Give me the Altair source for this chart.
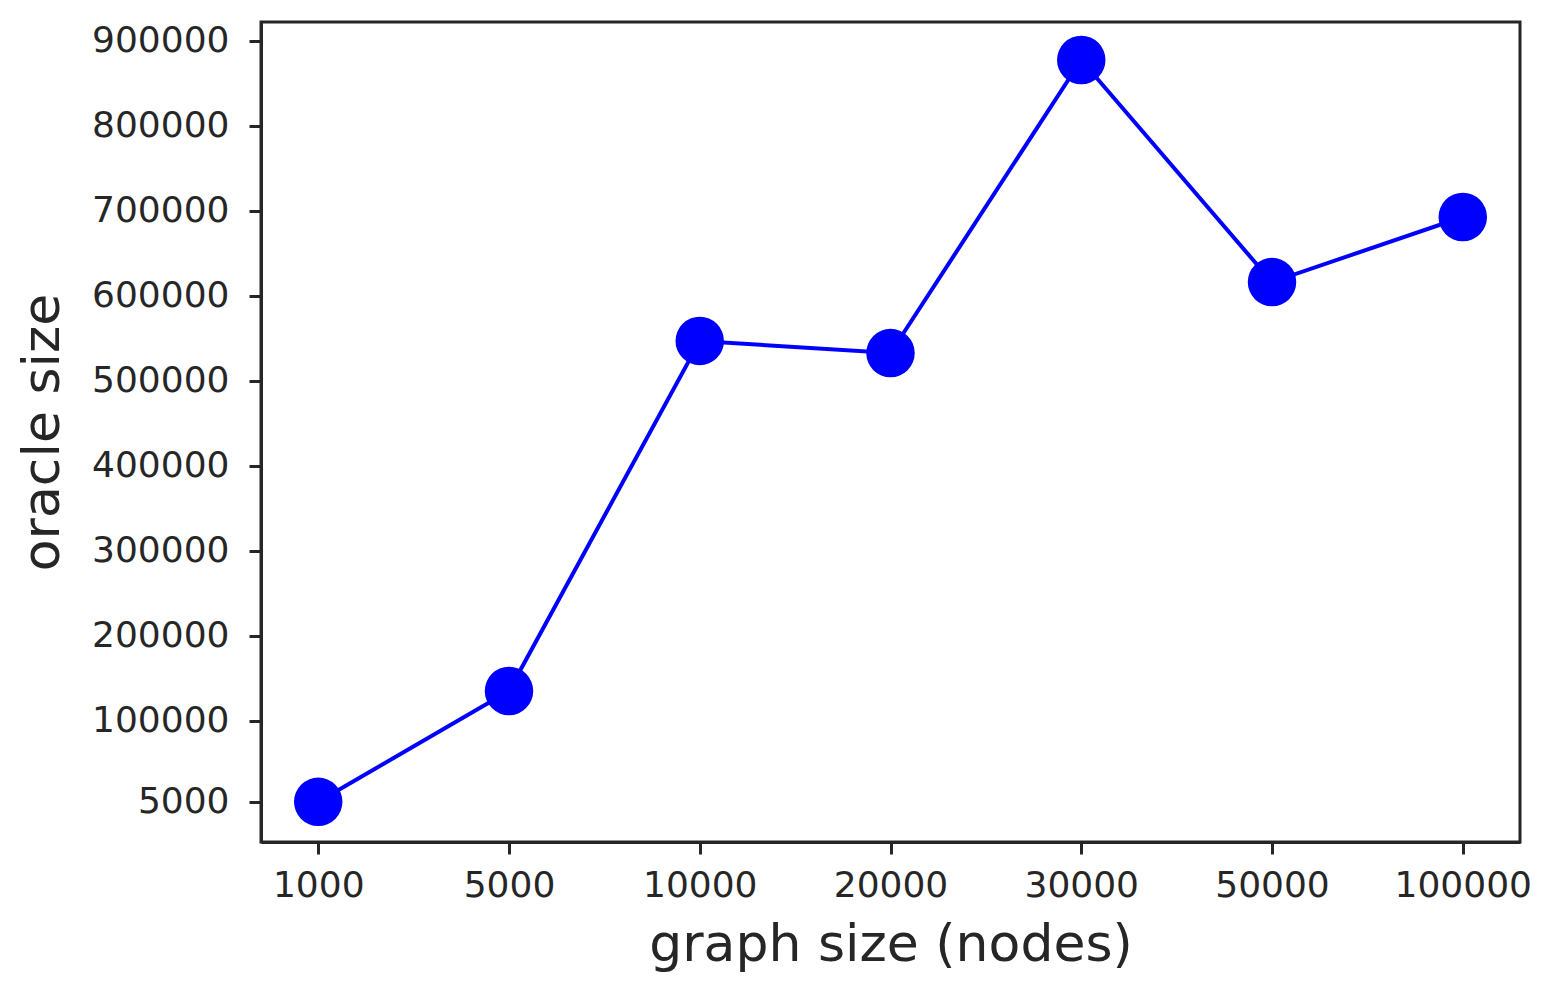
import altair as alt
import pandas as pd

graph_sizes = ["1000", "5000", "10000", "20000", "30000", "50000", "100000"]
oracle_sizes = [5000, 135300, 546900, 532700, 877300, 616200, 692700]
y_ticks = [5000, 100000, 200000, 300000, 400000, 500000, 600000, 700000, 800000, 900000]

df = pd.DataFrame({"graph": graph_sizes, "oracle": oracle_sizes})

FONT = "DejaVu Sans"
DARK = "#262626"

x = alt.X(
    "graph:N",
    sort=graph_sizes,
    scale=alt.Scale(type="point", padding=0.3),
    axis=alt.Axis(
        title="graph size (nodes)",
        labelAngle=0,
        labelFontSize=36,
        titleFontSize=52,
        titleFontWeight="normal",
        titlePadding=16,
        labelPadding=14,
        tickSize=12,
        tickWidth=3,
        domainWidth=3,
        tickColor=DARK,
        domainColor=DARK,
        labelColor=DARK,
        titleColor=DARK,
        labelFont=FONT,
        titleFont=FONT,
        grid=False,
    ),
)
y = alt.Y(
    "oracle:Q",
    scale=alt.Scale(domain=[-42300, 922000], nice=False, zero=False),
    axis=alt.Axis(
        title="oracle size",
        values=y_ticks,
        format="d",
        labelFontSize=36,
        titleFontSize=52,
        titleFontWeight="normal",
        titlePadding=22,
        labelPadding=20,
        tickSize=12,
        tickWidth=3,
        domainWidth=3,
        tickColor=DARK,
        domainColor=DARK,
        labelColor=DARK,
        titleColor=DARK,
        labelFont=FONT,
        titleFont=FONT,
        grid=False,
    ),
)

base = alt.Chart(df)
line = base.mark_line(color="#0000ff", strokeWidth=4).encode(x=x, y=y)
pts = base.mark_point(color="#0000ff", filled=True, opacity=1, size=2350).encode(x=x, y=y)

chart = (
    alt.layer(line, pts)
    .properties(
        width=1259,
        height=820,
        background="white",
        autosize=alt.AutoSizeParams(type="none"),
        padding={"left": 253, "top": 14, "right": 14, "bottom": 139},
    )
    .configure_view(stroke=DARK, strokeWidth=3)
)

chart.save("out.html", embed_options={"renderer": "svg", "actions": False})
